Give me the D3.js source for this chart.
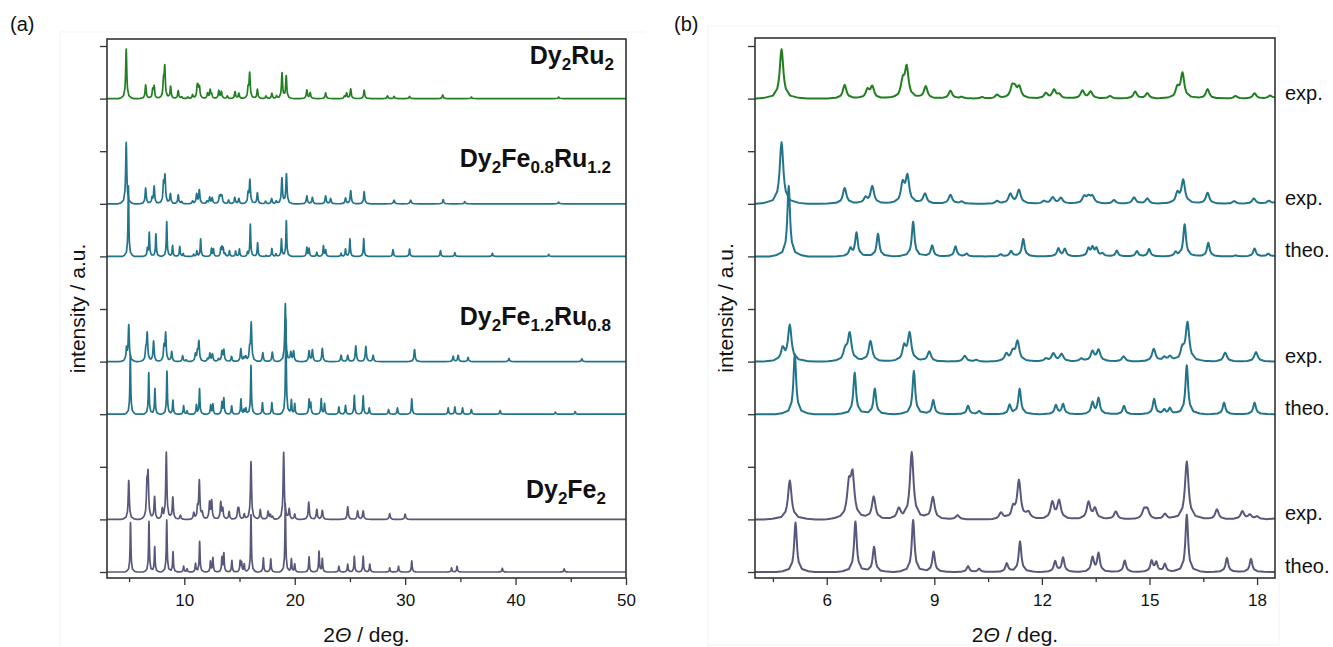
<!DOCTYPE html>
<html>
<head>
<meta charset="utf-8">
<script src="https://cdn.jsdelivr.net/npm/d3@7"></script>
<style>
  body { margin: 0; background: #fff; }
  svg text { font-family: "Liberation Sans", Arial, sans-serif; fill: #111; }
</style>
</head>
<body>
<div id="chart"></div>
<script>
// powder patterns, peaks as [2theta, intensity above baseline]
const ru2Exp = [[4.74,0.94],[6.50,0.26],[7.14,0.16],[7.27,0.22],[8.12,0.3],[8.23,0.57],[8.76,0.23],[9.45,0.15],[9.76,0.03],[10.33,0.03],[10.75,0.07],[11.17,0.2],[11.25,0.16],[11.37,0.2],[12.11,0.1],[12.34,0.16],[12.48,0.07],[13.13,0.15],[13.36,0.13],[13.9,0.05],[14.6,0.13],[14.94,0.1],[15.78,0.18],[15.92,0.47],[16.62,0.18],[17.4,0.05],[17.93,0.1],[18.36,0.05],
  [18.85,0.48],[19.23,0.42],[21.1,0.16],[21.4,0.11],[22.8,0.11],[24.5,0.04],[24.7,0.1],[25.07,0.18],[26.29,0.16],[28.4,0.05],[29.0,0.04],[30.4,0.04],[33.4,0.07],[36.0,0.03],[43.9,0.03]];
const fe08Exp = [[4.74,1.17],[6.50,0.3],[7.08,0.1],[7.27,0.33],[8.12,0.36],[8.25,0.5],[8.74,0.19],[9.45,0.17],[9.76,0.04],[10.75,0.05],[11.12,0.18],[11.36,0.26],[12.06,0.05],[12.30,0.12],[12.53,0.11],[13.18,0.13],[13.30,0.12],[13.41,0.13],[14.01,0.07],[14.57,0.12],[14.94,0.1],[15.78,0.18],[15.94,0.44],[16.62,0.21],[17.36,0.05],[17.91,0.1],[18.33,0.05],
  [18.84,0.48],[19.25,0.56],[21.1,0.15],[21.6,0.12],[22.8,0.15],[23.25,0.1],[24.6,0.11],[25.07,0.25],[26.29,0.23],[29.0,0.07],[30.5,0.07],[33.44,0.08],[35.4,0.04],[43.9,0.03]];
const fe08Theo = [[4.94,1.34],[6.66,0.14],[6.83,0.45],[7.43,0.43],[8.41,0.66],[8.94,0.21],[9.59,0.19],[9.90,0.05],[10.85,0.04],[11.14,0.1],[11.48,0.33],[12.46,0.15],[12.64,0.14],[13.30,0.14],[13.41,0.15],[13.52,0.14],[13.69,0.05],[14.09,0.11],[14.65,0.1],[14.99,0.14],[15.73,0.07],[15.98,0.61],[16.64,0.26],[17.4,0.02],[17.93,0.15],[18.31,0.05],
  [18.8,0.33],[19.24,0.68],[21.1,0.17],[21.3,0.15],[22.0,0.08],[22.6,0.2],[22.8,0.12],[24.2,0.06],[24.6,0.14],[25.0,0.33],[26.25,0.34],[28.9,0.13],[30.4,0.14],[33.2,0.11],[34.5,0.07],[37.9,0.06],[43.0,0.04]];
const fe12Exp = [[4.77,0.22],[4.97,0.68],[6.52,0.2],[6.64,0.52],[7.22,0.39],[8.16,0.26],[8.31,0.52],[8.86,0.19],[9.85,0.11],[10.17,0.03],[11.01,0.13],[11.19,0.16],[11.32,0.37],[12.11,0.05],[12.32,0.15],[12.55,0.14],[13.1,0.05],[13.41,0.18],[13.58,0.21],[14.28,0.1],[15.12,0.24],[15.41,0.07],[15.57,0.08],[15.92,0.2],[16.06,0.72],[17.11,0.17],[17.97,0.18],
  [19.15,1.1],[19.65,0.17],[19.9,0.2],[21.3,0.2],[21.6,0.22],[22.5,0.25],[24.2,0.12],[24.8,0.12],[25.53,0.3],[26.44,0.29],[27.1,0.12],[30.85,0.23],[34.35,0.1],[34.8,0.12],[35.7,0.08],[39.4,0.06],[46.0,0.05]];
const fe12Theo = [[5.11,1.14],[6.78,0.79],[7.34,0.49],[8.43,0.82],[8.97,0.27],[9.94,0.16],[10.25,0.06],[11.10,0.17],[11.38,0.48],[12.39,0.17],[12.59,0.19],[13.41,0.22],[13.58,0.3],[14.29,0.16],[15.13,0.29],[15.41,0.08],[15.57,0.11],[16.04,0.93],[17.08,0.22],[17.93,0.22],
  [19.2,1.8],[19.7,0.27],[20.0,0.2],[21.3,0.27],[21.45,0.2],[22.4,0.29],[22.7,0.2],[24.0,0.14],[24.6,0.17],[25.4,0.36],[26.2,0.35],[26.75,0.12],[28.5,0.09],[29.3,0.12],[30.6,0.29],[33.9,0.12],[34.5,0.14],[35.2,0.12],[36.0,0.09],[38.6,0.07],[43.6,0.04],[45.4,0.05]];
const fe2Exp = [[4.97,0.74],[6.62,0.6],[6.72,0.78],[7.31,0.43],[8.01,0.18],[8.37,1.27],[8.96,0.42],[9.65,0.08],[10.86,0.12],[11.2,0.18],[11.36,0.72],[11.62,0.12],[12.29,0.31],[12.48,0.34],[13.3,0.32],[13.48,0.19],[14.06,0.15],[14.85,0.17],[14.94,0.17],[15.43,0.1],[16.04,1.1],[16.88,0.19],[17.59,0.15],[17.8,0.08],[18.0,0.05],
  [19.0,1.27],[19.5,0.19],[20.0,0.1],[21.27,0.33],[22.0,0.19],[22.5,0.17],[24.8,0.24],[25.7,0.16],[26.2,0.16],[28.6,0.11],[30.0,0.1]];
const fe2Theo = [[5.13,0.94],[6.80,0.96],[7.32,0.48],[8.41,0.99],[8.98,0.39],[9.94,0.11],[10.25,0.06],[11.02,0.16],[11.39,0.58],[12.37,0.2],[12.59,0.27],[13.41,0.27],[13.58,0.35],[14.31,0.22],[15.06,0.2],[15.19,0.17],[15.43,0.15],[16.04,1.09],[17.16,0.27],[17.83,0.25],
  [19.15,1.3],[19.7,0.25],[20.0,0.15],[21.3,0.29],[22.2,0.39],[22.5,0.25],[24.0,0.11],[24.8,0.15],[25.4,0.3],[26.2,0.3],[26.8,0.15],[28.6,0.08],[29.4,0.11],[30.6,0.21],[34.2,0.08],[34.7,0.11],[38.8,0.07],[44.4,0.06]];

const patterns  = [ru2Exp, fe08Exp, fe08Theo, fe12Exp, fe12Theo, fe2Exp, fe2Theo];
const offsets   = [9, 7, 6, 4, 3, 1, 0];
const kinds     = ['exp.', 'exp.', 'theo.', 'exp.', 'theo.', 'exp.', 'theo.'];
const colors    = ['#217f21', '#22748a', '#22748a', '#22748a', '#22748a', '#58587c', '#58587c'];

// sample names as [text, isSubscript] pieces, and the baseline they sit on
const sampleNames = [
  [['Dy',0],['2',1],['Ru',0],['2',1]],
  [['Dy',0],['2',1],['Fe',0],['0.8',1],['Ru',0],['1.2',1]],
  [['Dy',0],['2',1],['Fe',0],['1.2',1],['Ru',0],['0.8',1]],
  [['Dy',0],['2',1],['Fe',0],['2',1]]
];
const sampleLevels = [9.65, 7.7, 4.7, 1.4];

const ticksA = [10, 20, 30, 40, 50];
const minorA = [5, 15, 25, 35, 45];
const ticksB = [6, 9, 12, 15, 18];
const minorB = [4.5, 7.5, 10.5, 13.5, 16.5];
const ticksY = d3.range(0, 11);

// peak line shape (lorentz-like), offsets in half widths
const shapeU = [0, 0.3, 0.6, 1, 1.4, 2, 4, 8, 12];
const shapeV = [1, 0.92, 0.74, 0.5, 0.34, 0.2, 0.06, 0.015, 0];
const shapeAt = d3.scaleLinear().domain(shapeU).range(shapeV).clamp(true);

function profile(peaks, hw, lo, hi) {
  let xs = [lo, hi];
  peaks.forEach(p => shapeU.forEach(u => { xs.push(p[0] + u * hw); xs.push(p[0] - u * hw); }));
  xs = xs.filter(x => x >= lo && x <= hi).sort((a, b) => a - b);
  return xs.map(x => [x, d3.sum(peaks, p => p[1] * shapeAt(Math.abs(x - p[0]) / hw))]);
}

const svg = d3.select('#chart').append('svg')
  .attr('width', 1333).attr('height', 647);

// faint outline of the two pasted figures
svg.append('path').attr('d', 'M60,647V32H645').attr('fill', 'none').attr('stroke', '#f3f3f3');
svg.append('path').attr('d', 'M708,647V26H1279V645H708').attr('fill', 'none').attr('stroke', '#f3f3f3');

const y = d3.scaleLinear().domain([0, 10]).range([572, 46]);

function panel(id, left, right, top, bottom, xdom, ticks, minor, label) {
  const x = d3.scaleLinear().domain(xdom).range([left, right]);
  const g = svg.append('g');

  g.append('clipPath').attr('id', 'clip' + id)
    .append('rect').attr('x', left).attr('y', top).attr('width', right - left).attr('height', bottom - top);

  const line = d3.line().x(d => x(d[0]));
  const traces = g.append('g').attr('clip-path', `url(#clip${id})`);
  patterns.forEach((pk, i) => {
    const hw = kinds[i] === 'exp.' ? 0.06 : 0.045;
    traces.append('path')
      .attr('d', line.y(d => y(offsets[i] + d[1]))(profile(pk, hw, xdom[0], xdom[1])))
      .attr('fill', 'none')
      .attr('stroke', colors[i])
      .attr('stroke-width', id === 'a' ? 1.7 : 2)
      .attr('stroke-linejoin', 'round');
  });

  // frame
  g.append('rect').attr('x', left).attr('y', top).attr('width', right - left).attr('height', bottom - top)
    .attr('fill', 'none').attr('stroke', '#333').attr('stroke-width', 1.6);

  const xa = g.append('g').attr('transform', `translate(0,${bottom})`)
    .call(d3.axisBottom(x).tickValues(ticks).tickSize(7).tickPadding(9).tickFormat(d3.format('d')));
  xa.select('.domain').remove();
  xa.selectAll('line').attr('stroke', '#333').attr('stroke-width', 1.3);
  xa.selectAll('text').attr('font-size', 17).attr('fill', '#111')
    .style('font-family', '"Liberation Sans", Arial, sans-serif');

  const xm = g.append('g').attr('transform', `translate(0,${bottom})`)
    .call(d3.axisBottom(x).tickValues(minor).tickSize(4).tickFormat(''));
  xm.select('.domain').remove();
  xm.selectAll('line').attr('stroke', '#333').attr('stroke-width', 1.3);

  const ya = g.append('g').attr('transform', `translate(${left},0)`)
    .call(d3.axisLeft(y).tickValues(ticksY).tickSize(7).tickFormat(''));
  ya.select('.domain').remove();
  ya.selectAll('line').attr('stroke', '#333').attr('stroke-width', 1.3);

  // axis titles
  const xt = g.append('text').attr('x', (left + right) / 2).attr('y', 642)
    .attr('text-anchor', 'middle').attr('font-size', 21);
  xt.append('tspan').text('2');
  xt.append('tspan').attr('font-style', 'italic').text('Θ');
  xt.append('tspan').text(' / deg.');

  g.append('text')
    .attr('transform', `translate(${left - 22},${(top + bottom) / 2}) rotate(-90)`)
    .attr('text-anchor', 'middle').attr('font-size', 21).text('intensity / a.u.');

  g.append('text').attr('x', id === 'a' ? 10 : 674).attr('y', 31).attr('font-size', 20).text(label);
  return x;
}

const xA = panel('a', 107, 626, 39, 578, [3, 50], ticksA, minorA, '(a)');
const xB = panel('b', 755, 1275, 38, 578, [4, 18.5], ticksB, minorB, '(b)');

// sample names in panel (a)
const nameEnds = [614, 611, 611, 606];
sampleNames.forEach((parts, i) => {
  const t = svg.append('text').attr('x', nameEnds[i]).attr('y', y(sampleLevels[i]))
    .attr('text-anchor', 'end').attr('font-weight', 'bold').attr('font-size', 25);
  let shifted = false;
  parts.forEach(p => {
    const ts = t.append('tspan').text(p[0]);
    if (p[1]) { ts.attr('font-size', 17).attr('dy', shifted ? 0 : 6); shifted = true; }
    else if (shifted) { ts.attr('dy', -6); shifted = false; }
  });
});

// exp./theo. tags in panel (b)
svg.append('g').selectAll('text').data(kinds).join('text')
  .attr('x', 1285)
  .attr('y', (d, i) => y(offsets[i]) - 6)
  .attr('dominant-baseline', 'central')
  .attr('font-size', 20)
  .text(d => d);
</script>
</body>
</html>
